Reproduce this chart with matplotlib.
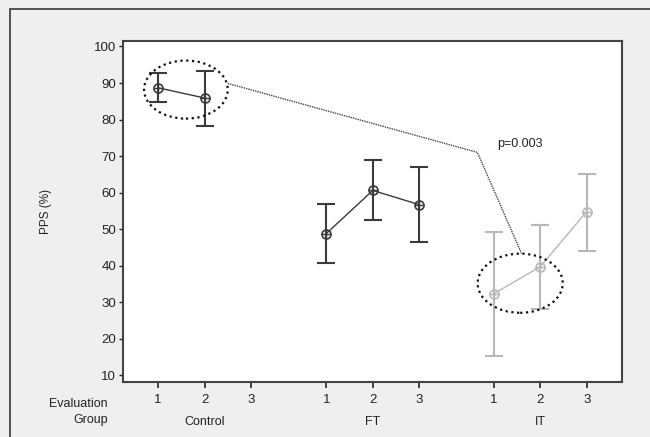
import matplotlib
matplotlib.use("Agg")
import matplotlib.pyplot as plt
from matplotlib.patches import Ellipse, Rectangle

plt.rcParams['font.family'] = ['Liberation Sans', 'DejaVu Sans']

groups = ['Control', 'FT', 'IT']
evaluations = ['1', '2', '3']

control_mean = [88.7, 85.9]
control_lo = [84.7, 78.2]
control_hi = [92.7, 93.3]

ft_mean = [48.8, 60.6, 56.7]
ft_lo = [40.8, 52.6, 46.4]
ft_hi = [56.8, 68.8, 67.0]

it_mean = [32.3, 39.7, 54.8]
it_lo = [15.3, 28.2, 44.1]
it_hi = [49.2, 51.2, 65.1]

p_text = 'p=0.003'

fig = plt.figure(figsize=(6.5, 4.37), dpi=100)
fig.patch.set_facecolor('#efefef')
fig.add_artist(Rectangle((10 / 650, -0.1), 1.2, 1 - 9 / 437 + 0.1,
                         transform=fig.transFigure, fill=False,
                         edgecolor='#444444', linewidth=1.3))

ax = fig.add_axes([123 / 650, 1 - 381.5 / 437, (622 - 123) / 650, (381.5 - 41) / 437])
ax.set_facecolor('white')

group_offset = [0.0, 3.62, 7.22]
series = [
    (control_mean, control_lo, control_hi, '#3a3a3a'),
    (ft_mean, ft_lo, ft_hi, '#3a3a3a'),
    (it_mean, it_lo, it_hi, '#b8b8b8'),
]

for g, (m, lo, hi, col) in enumerate(series):
    xs = [group_offset[g] + i for i in range(len(m))]
    yerr = [[mm - l for mm, l in zip(m, lo)], [h - mm for mm, h in zip(m, hi)]]
    ax.errorbar(xs, m, yerr=yerr, fmt='none', ecolor=col, elinewidth=1.5,
                capsize=6.2, capthick=1.5, zorder=2)
    ax.plot(xs, m, color=col, lw=1.0, zorder=3)
    ax.plot(xs, m, 'o', ms=6.5, mfc='none', mec=col, mew=1.2, zorder=4)
    ax.plot(xs, m, '+', ms=6.5, mec=col, mew=1.0, zorder=4)

# dotted ellipses
ax.add_patch(Ellipse((0.6, 88.2), 1.8, 15.9, fill=False, ls=(0, (1, 1.6)),
                     lw=1.6, edgecolor='#111111', zorder=5))
ax.add_patch(Ellipse((group_offset[2] + 0.57, 35.2), 1.83, 16.2, fill=False,
                     ls=(0, (1, 1.6)), lw=1.6, edgecolor='#111111', zorder=5))

# connecting line
ax.plot([1.5, 6.87, 7.82], [89.9, 71.0, 43.3], color='#444444', lw=1.0,
        ls=(0, (1, 0.7)), zorder=5)
ax.text(7.3, 73.4, p_text, fontsize=9, color='#222222', va='center', ha='left')

xticks = [group_offset[g] + i for g in range(3) for i in range(3)]
ax.set_xticks(xticks)
ax.set_xticklabels(evaluations * 3, fontsize=9.5, color='#222222')
ax.set_xlim(-0.753, 9.98)
ax.set_ylim(8.3, 101.5)
ax.set_yticks(range(10, 101, 10))
ax.tick_params(axis='y', labelsize=9.5, colors='#222222', length=3, width=1, pad=2)
ax.tick_params(axis='x', length=4, width=1.2, pad=5, colors='#222222')
for s in ax.spines.values():
    s.set_color('#444444')
    s.set_linewidth(1.5)

ax.set_ylabel('PPS (%)', fontsize=8.5, color='#222222', labelpad=30)

for g, name in enumerate(groups):
    ax.text(group_offset[g] + 1, -0.118, name, transform=ax.get_xaxis_transform(),
            ha='center', va='center', fontsize=9, color='#222222')

fig.text(108 / 650, 1 - 404 / 437, 'Evaluation', ha='right', va='center', fontsize=9, color='#222222')
fig.text(108 / 650, 1 - 420 / 437, 'Group', ha='right', va='center', fontsize=9, color='#222222')

fig.savefig('out.png', dpi=100, facecolor=fig.get_facecolor())
